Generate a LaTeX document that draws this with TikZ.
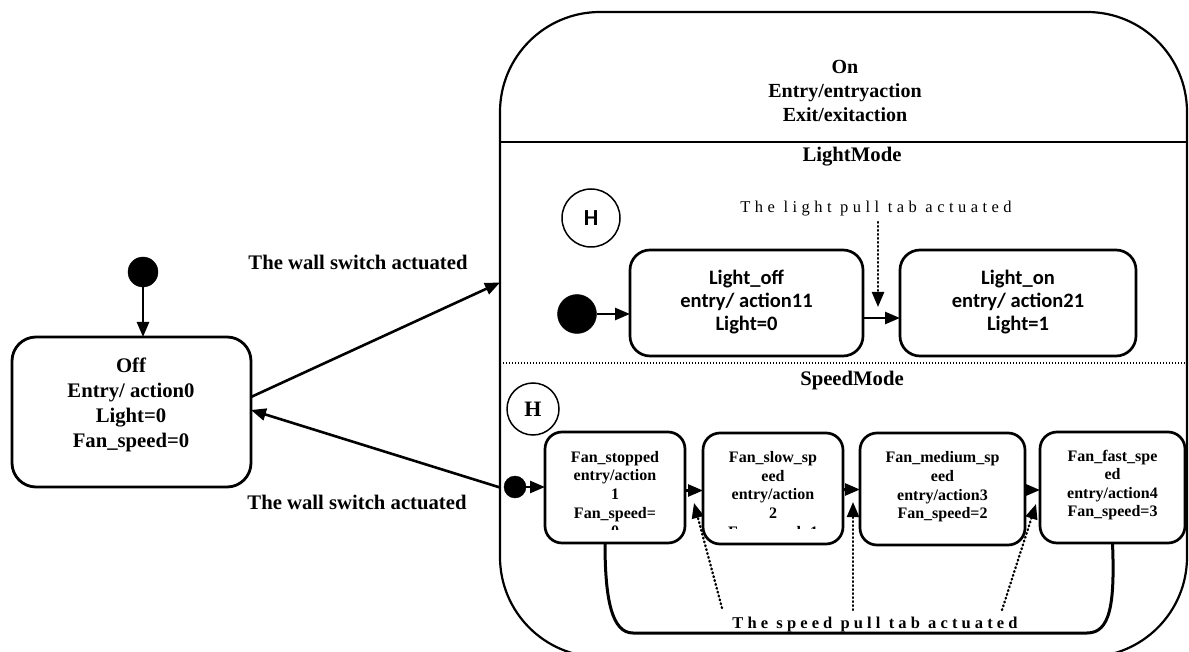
\documentclass[tikz,border=0pt]{standalone}
\usepackage{fontspec}
\setmainfont{Liberation Serif}
\newfontfamily\calfont{Carlito}
\usetikzlibrary{arrows.meta,calc}
\tikzset{
  every node/.style={inner sep=0pt, outer sep=0pt},
  tipp/.style={-{Triangle[length=15pt,width=12pt]}},
  trans/.style={line width=2.6pt, tipp},
  offbox/.style={draw, line width=2.8pt, rounded corners=24pt},
  lightbox/.style={draw, line width=2.7pt, rounded corners=20pt},
  fanbox/.style={draw, line width=2.7pt, rounded corners=17pt},
  serifbig/.style={align=center, font=\fontsize{20.7}{25}\selectfont\bfseries},
  ontext/.style={align=center, font=\fontsize{20}{24}\selectfont\bfseries},
  caltext/.style={align=center, font=\fontsize{20.5}{23}\selectfont\calfont\bfseries},
  fantext/.style={align=center, font=\fontsize{16}{18.6}\selectfont\bfseries},
  initdot/.style={circle, fill=black, draw=black},
  histc/.style={circle, draw, line width=1.5pt},
  dotline/.style={line width=2.4pt, dash pattern=on 0.8pt off 3.2pt, line cap=round},
  loopline/.style={line width=3pt},
}
\begin{document}
\begin{tikzpicture}[x=1pt,y=-1pt]
\useasboundingbox (0,0) rectangle (1189,652);

% ---------- Off state ----------
\node[initdot, minimum size=30pt] (offdot) at (143,272) {};
\node[offbox, minimum width=239pt, minimum height=150pt] (off) at (131.5,412) {};
\node[serifbig] (offtxt) at (131,405) {Off\\Entry/ action0\\Light=0\\Fan\_speed=0};
\draw[trans] (offdot) -- (off.north -| offdot);

% ---------- On composite state ----------
\node[draw, line width=2.2pt, rounded corners=100pt, minimum width=687pt, minimum height=645pt] (on) at (843.5,334.5) {};
\node[ontext] (ontxt) at (845,91) {On\\Entry/entryaction\\Exit/exitaction};
\draw[line width=2.2pt] (500,142) -- (1187,142);
\draw[line width=1.4pt, dash pattern=on 1.2pt off 1.8pt] (500,363) -- (1187,363);
\node[serifbig] (lm) at (852,157) {LightMode};
\node[serifbig] (sm) at (852,381) {SpeedMode};

% ---------- LightMode region ----------
\node[histc, minimum size=58pt] (lh) at (591,218) {\fontsize{23}{23}\selectfont\calfont\bfseries H};
\node[initdot, minimum size=39pt] (ldot) at (577,314) {};
\node[lightbox, minimum width=233pt, minimum height=106pt] (loff) at (746.5,303) {};
\node[caltext] at (746.5,302) {Light\_off\\entry/ action11\\Light=0};
\node[lightbox, minimum width=236pt, minimum height=106pt] (lon) at (1018,303) {};
\node[caltext] at (1018,302) {Light\_on\\entry/ action21\\Light=1};
\draw[trans] (ldot) -- (ldot -| loff.west);
\draw[trans] ([yshift=-15pt]loff.east) -- ([yshift=-15pt]lon.west);
\node[font=\fontsize{16.5}{18}\selectfont\addfontfeature{LetterSpace=27}] (llab) at (876,209) {The light pull tab actuated};
\coordinate (lstart) at (878,222);
\draw[dotline, tipp] (lstart) -- (878,307);

% ---------- SpeedMode region ----------
\node[histc, minimum size=52pt] (sh) at (533,409) {\fontsize{22}{22}\selectfont\bfseries H};
\node[initdot, minimum size=22pt] (sdot) at (515,487) {};
\node[fanbox, minimum width=140pt, minimum height=111pt] (fstop) at (615,487.5) {};
\node[fanbox, minimum width=140pt, minimum height=111pt] (fslow) at (773,488.5) {};
\node[fanbox, minimum width=165pt, minimum height=112pt] (fmed) at (942.5,489) {};
\node[fanbox, minimum width=145pt, minimum height=111pt] (ffast) at (1112.5,487.5) {};
\begin{scope}
  \clip (550,436) rectangle (680,529);
  \node[fantext] at (615,494) {Fan\_stopped\\entry/action\\1\\Fan\_speed=\\0};
\end{scope}
\begin{scope}
  \clip (708,436) rectangle (838,528.5);
  \node[fantext] at (773,496) {Fan\_slow\_sp\\eed\\entry/action\\2\\Fan\_speed=1};
\end{scope}
\node[fantext] at (942.5,487) {Fan\_medium\_sp\\eed\\entry/action3\\Fan\_speed=2};
\node[fantext] at (1112.5,485) {Fan\_fast\_spe\\ed\\entry/action4\\Fan\_speed=3};

\draw[trans] (sdot) -- (sdot -| fstop.west);
\draw[trans] ([yshift=-3pt]fstop.east) -- ([yshift=-3pt]fstop.east -| fslow.west);
\draw[trans] ([yshift=-1pt]fslow.east) -- ([yshift=-1pt]fslow.east -| fmed.west);
\draw[trans] ([yshift=-1pt]fmed.east) -- ([yshift=-1pt]fmed.east -| ffast.west);

\draw[loopline] (ffast.south) .. controls (1115,605) and (1110,633) .. (1087,633)
  -- (633,633) .. controls (612,633) and (605,600) .. ([xshift=-10pt]fstop.south);

\node[font=\fontsize{16.5}{18}\selectfont\bfseries\addfontfeature{LetterSpace=25}] (slab) at (875,625) {The speed pull tab actuated};
\coordinate (s1) at (722,608);
\coordinate (s2) at (853,610);
\coordinate (s3) at (1002,610);
\draw[dotline, tipp] (s1) -- (694,503);
\draw[dotline, tipp] (s2) -- (853,502);
\draw[dotline, tipp] (s3) -- (1036,504);

% ---------- wall switch transitions ----------
\draw[trans] ([yshift=15pt]off.east) -- ([yshift=52pt]on.west);
\node[serifbig] (w1) at (358,262) {The wall switch actuated};
\draw[trans] ([yshift=-153pt]on.west) -- ([yshift=2pt]off.east);
\node[serifbig] (w2) at (357,502) {The wall switch actuated};
\end{tikzpicture}
\end{document}
